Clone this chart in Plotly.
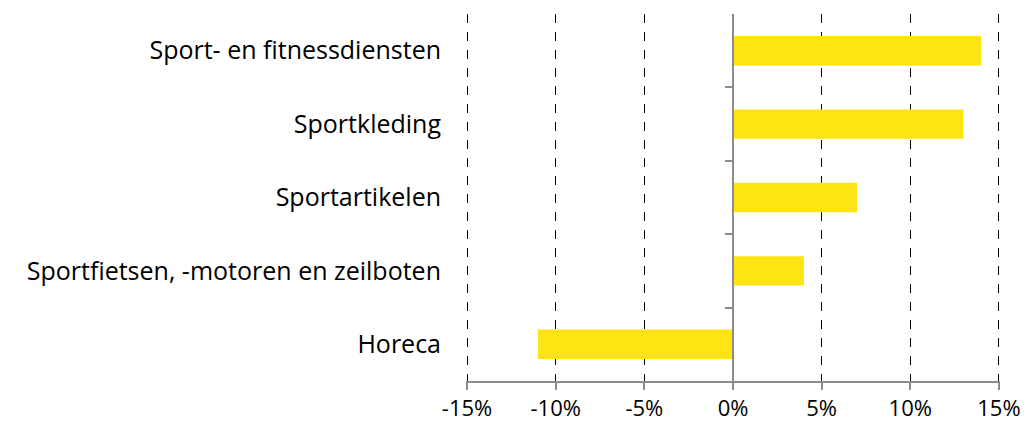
import plotly.graph_objects as go

categories = ["Sport- en fitnessdiensten", "Sportkleding", "Sportartikelen",
              "Sportfietsen, -motoren en zeilboten", "Horeca"]
values = [14, 13, 7, 4, -11]
x_ticks = [-15, -10, -5, 0, 5, 10, 15]
x_tick_labels = ["-15%", "-10%", "-5%", "0%", "5%", "10%", "15%"]
boundaries = [0.5, 1.5, 2.5, 3.5]

FONT = "Open Sans"
GRAY = "#8c8c8c"

fig = go.Figure()
fig.add_trace(go.Bar(
    y=categories, x=values, orientation="h",
    marker=dict(color="#FFE414", line=dict(width=0)),
    width=0.4, showlegend=False,
))
# invisible trace to activate the secondary y axis (ticks along the 0% line)
fig.add_trace(go.Scatter(x=[0], y=[0], yaxis="y2", mode="markers",
                         marker=dict(opacity=0), showlegend=False, hoverinfo="skip"))

fig.update_layout(
    width=1024, height=424,
    margin=dict(l=466, r=24, t=14, b=43),
    plot_bgcolor="white", paper_bgcolor="white",
    font=dict(family=FONT, size=24, color="black"),
    xaxis=dict(
        range=[-15.06, 15.06], tickvals=x_ticks, ticktext=x_tick_labels,
        showgrid=True, gridcolor="black", griddash="dash", gridwidth=1,
        zeroline=False, showline=True, linecolor=GRAY, linewidth=2,
        ticks="outside", ticklen=7, tickcolor=GRAY, tickwidth=2,
        tickfont=dict(size=22, family=FONT), automargin=False,
    ),
    yaxis=dict(
        categoryorder="array", categoryarray=categories, autorange="reversed",
        range=[4.5, -0.5], showline=False, ticks="", showgrid=False,
        ticklabelstandoff=24, tickfont=dict(size=25, family=FONT), automargin=False,
    ),
    yaxis2=dict(
        overlaying="y", anchor="free", position=0.5, side="left",
        range=[4.5, -0.5], tickvals=boundaries, showticklabels=False,
        ticks="outside", ticklen=7, tickcolor=GRAY, tickwidth=2,
        showline=True, linecolor=GRAY, linewidth=2, showgrid=False, zeroline=False,
        automargin=False,
    ),
)

# remove the default page margin so the 1024x424 figure fills the window exactly
fig.write_html("out.html", config={"displayModeBar": False},
               post_script="document.body.style.margin='0';document.body.style.overflow='hidden';")
